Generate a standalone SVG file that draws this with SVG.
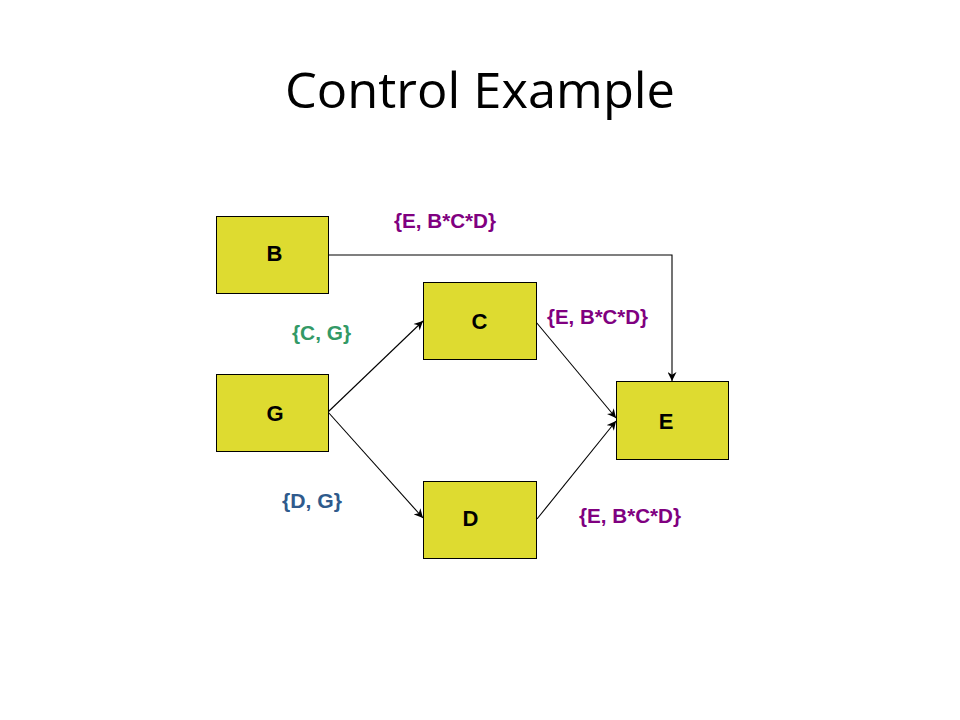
<svg xmlns="http://www.w3.org/2000/svg" width="960" height="720" viewBox="0 0 960 720">
<style>
.node rect{fill:#DEDB30;stroke:#000;stroke-width:1}
.node text{font-family:"Liberation Sans",Arial,sans-serif;font-weight:bold;font-size:22px;fill:#000;text-anchor:middle}
.lbl{font-family:"Liberation Sans",Arial,sans-serif;font-weight:bold;font-size:20px}
.purple{fill:#800080}
.green{fill:#339966}
.blue{fill:#2F5A8C}
#connectors path{fill:none;stroke:#000;stroke-width:1.1}
</style>
<defs>
<marker id="arr" viewBox="0 0 10 10" refX="10" refY="5" markerWidth="10" markerHeight="9" markerUnits="userSpaceOnUse" orient="auto">
<path d="M0,0 L10,5 L0,10 L3,5 z" fill="#000"/>
</marker>
</defs>
<rect width="960" height="720" fill="#fff"/>
<text x="480" y="108" font-family="'Open Sans','Liberation Sans',sans-serif" font-size="50" text-anchor="middle" textLength="390" lengthAdjust="spacingAndGlyphs" fill="#000">Control Example</text>
<g id="connectors">
<path d="M328,255 H672 V381" marker-end="url(#arr)"/>
<path d="M328,412 L423,321" marker-end="url(#arr)"/>
<path d="M328,412 L423,518" marker-end="url(#arr)"/>
<path d="M536,322 L616,418" marker-end="url(#arr)"/>
<path d="M537,519 L616,421" marker-end="url(#arr)"/>
</g>
<g id="node-B" class="node"><rect x="216.5" y="216.5" width="112" height="77"/><text x="274.5" y="261">B</text></g>
<g id="node-C" class="node"><rect x="423.5" y="282.5" width="113" height="77"/><text x="479.5" y="329">C</text></g>
<g id="node-G" class="node"><rect x="216.5" y="374.5" width="112" height="77"/><text x="275" y="421">G</text></g>
<g id="node-D" class="node"><rect x="423.5" y="481.5" width="113" height="77"/><text x="470.5" y="526">D</text></g>
<g id="node-E" class="node"><rect x="616.5" y="381.5" width="112" height="78"/><text x="666" y="429">E</text></g>
<g id="labels">
<text class="lbl purple" x="394" y="228" textLength="102" lengthAdjust="spacingAndGlyphs">{E, B*C*D}</text>
<text class="lbl purple" x="547" y="324" textLength="101" lengthAdjust="spacingAndGlyphs">{E, B*C*D}</text>
<text class="lbl purple" x="579" y="523" textLength="102" lengthAdjust="spacingAndGlyphs">{E, B*C*D}</text>
<text class="lbl green" x="292" y="340" textLength="59" lengthAdjust="spacingAndGlyphs">{C, G}</text>
<text class="lbl blue" x="282" y="508" textLength="60" lengthAdjust="spacingAndGlyphs">{D, G}</text>
</g>
</svg>
